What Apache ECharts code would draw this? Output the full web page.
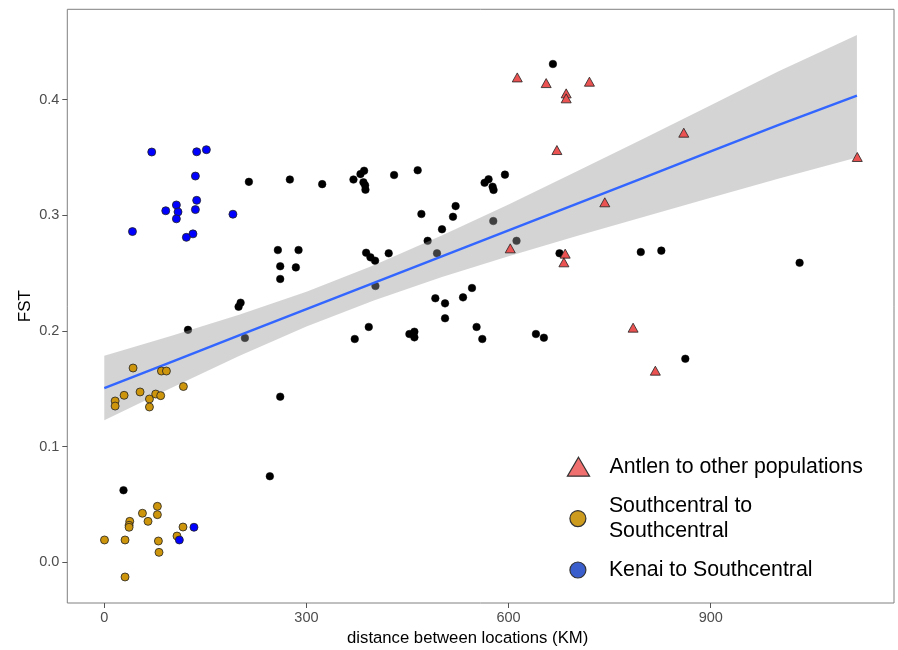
<!DOCTYPE html>
<html><head><meta charset="utf-8">
<script src="https://cdn.jsdelivr.net/npm/echarts@6/dist/echarts.min.js"></script>
<style>html,body{margin:0;padding:0;background:#fff}#c{width:898px;height:650px}</style>
</head><body><div id="c"></div>
<script>
// ---- data ----
const xTicks = [0, 300, 600, 900];
const yTicks = [0, 0.1, 0.2, 0.3, 0.4];

const nameAntlen = 'Antlen to other populations';
const nameSouth = 'Southcentral to Southcentral';
const nameKenai = 'Kenai to Southcentral';

const otherX = [214.6,275.4,323.4,257.6,288.3,261.1,284.3,261.1,202.3,199.3,124.2,208.7,28.5,261.1,245.7,369.8,380.2,385.6,384.6,387.1,387.6,430.1,465.1,564.4,570.3,576.3,577.7,594.6,521.4,517.5,470.6,501.2,577.3,479.9,611.8,493.8,388.6,395.0,401.9,422.1,402.4,545.7,532.4,491.3,505.7,505.7,392.5,371.7,452.8,460.2,460.2,552.5,561.0,640.6,652.4,665.8,675.6,796.2,826.7,1031.9,862.3];
const otherY = [0.329,0.331,0.327,0.270,0.270,0.256,0.255,0.245,0.2245,0.221,0.201,0.194,0.0623,0.1432,0.0744,0.331,0.3357,0.3386,0.3286,0.326,0.3222,0.3349,0.339,0.3282,0.3312,0.3248,0.322,0.3352,0.308,0.2988,0.3012,0.288,0.2951,0.278,0.278,0.2672,0.2677,0.2637,0.2608,0.2672,0.2389,0.2372,0.2291,0.2283,0.2239,0.211,0.2035,0.1931,0.1974,0.1994,0.1945,0.2035,0.1931,0.1974,0.1942,0.4309,0.2672,0.2683,0.2695,0.259,0.176];

const southX = [42.7,84.8,92.2,117.4,29.4,53.1,16.1,16.1,67.0,76.3,83.7,67.0,0.3,30.8,30.8,78.8,78.8,56.6,64.9,37.8,36.8,36.8,80.3,81.2,116.8,107.9];
const southY = [0.168,0.1654,0.1654,0.152,0.1444,0.1473,0.1395,0.1351,0.1412,0.1455,0.1441,0.1343,0.0193,0.0193,-0.0127,0.0484,0.0412,0.0424,0.0354,0.0354,0.0320,0.0303,0.0184,0.0086,0.0305,0.0227];

const kenaiX = [70.4,137.1,151.5,135.2,137.1,107.0,91.2,109.4,135.2,107.0,190.9,41.8,131.6,121.8,133.1,111.4];
const kenaiY = [0.3548,0.355,0.3568,0.334,0.313,0.309,0.304,0.303,0.305,0.297,0.301,0.286,0.284,0.281,0.0303,0.0193];

const antlenX = [612.9,655.8,720.0,685.5,685.5,671.7,860.0,1117.5,742.8,602.5,684.0,682.1,784.8,817.8];
const antlenY = [0.4193,0.4144,0.4156,0.4055,0.4012,0.3565,0.3715,0.3505,0.3113,0.2715,0.2669,0.2594,0.2029,0.1657];

// fitted line and confidence band
const bandX   = [0, 100, 200, 300, 400, 500, 600, 700, 800, 900, 1000, 1117];
const fitY    = [0.1507,0.1734,0.1962,0.2189,0.2416,0.2644,0.2871,0.3098,0.3325,0.3553,0.3780,0.4035];
const bandLow = [0.1228,0.1510,0.1783,0.2038,0.2264,0.2465,0.2647,0.2819,0.2987,0.3153,0.3316,0.3500];
const bandHigh= [0.1786,0.1959,0.2141,0.2340,0.2568,0.2823,0.3095,0.3377,0.3663,0.3953,0.4244,0.4560];

// ---- build chart ----
const FONT = '"Liberation Sans", Arial, Helvetica, sans-serif';
const zip = (a, b) => a.map((v, i) => [v, b[i]]);

const chart = echarts.init(document.getElementById('c'), null, {renderer: 'canvas'});
chart.setOption({
  animation: false,
  backgroundColor: '#ffffff',
  grid: {
    left: 67.3, right: 4, top: 9.3, bottom: 47,
    show: true, borderColor: '#808080', borderWidth: 1, backgroundColor: '#ffffff',
    containLabel: false, outerBoundsMode: 'none'
  },
  xAxis: {
    type: 'value', min: -54.9, max: 1172,
    axisLine: {show: false, onZero: false},
    splitLine: {show: false},
    axisTick: {show: true, customValues: xTicks, length: 5, lineStyle: {color: '#555555', width: 1}},
    axisLabel: {customValues: xTicks, color: '#4d4d4d', fontSize: 14.5, fontFamily: FONT, margin: 7},
    name: 'distance between locations (KM)', nameLocation: 'middle', nameGap: 27,
    nameMoveOverlap: false,
    nameTextStyle: {color: '#000000', fontSize: 16.7, fontFamily: FONT, padding: [0, 26, 0, 0]}
  },
  yAxis: {
    type: 'value', min: -0.0352, max: 0.4782,
    axisLine: {show: false, onZero: false},
    splitLine: {show: false},
    axisTick: {show: true, customValues: yTicks, length: 5, lineStyle: {color: '#555555', width: 1}},
    axisLabel: {customValues: yTicks, color: '#4d4d4d', fontSize: 14.5, fontFamily: FONT, margin: 8,
                formatter: v => Number(v).toFixed(1)},
    name: 'FST', nameLocation: 'middle', nameGap: 33, nameRotate: 90,
    nameMoveOverlap: false,
    nameTextStyle: {color: '#000000', fontSize: 17, fontFamily: FONT}
  },
  legend: [
    {
      data: [{name: nameAntlen, icon: 'path://M10.5,0L21,18L0,18Z',
              itemStyle: {color: '#F07070', borderColor: '#333333', borderWidth: 1.2}}],
      left: 566.8, top: 454.7, padding: 0, itemWidth: 52, itemHeight: 19, symbolKeepAspect: true,
      selectedMode: false, orient: 'vertical',
      textStyle: {fontSize: 21.3, color: '#000000', fontFamily: FONT, lineHeight: 24}
    },
    {
      data: [{name: nameSouth, icon: 'circle',
              itemStyle: {color: '#CD9B1D', borderColor: '#333333', borderWidth: 1.2}}],
      left: 569.3, top: 494.3, padding: 0, itemWidth: 52, itemHeight: 16,
      selectedMode: false, orient: 'vertical',
      formatter: n => n.replace(' to ', ' to\n'),
      textStyle: {fontSize: 21.3, color: '#000000', fontFamily: FONT, lineHeight: 24.3}
    },
    {
      data: [{name: nameKenai, icon: 'circle',
              itemStyle: {color: '#3A5FCD', borderColor: '#333333', borderWidth: 1.2}}],
      left: 569.3, top: 558, padding: 0, itemWidth: 52, itemHeight: 16,
      selectedMode: false, orient: 'vertical',
      textStyle: {fontSize: 21.3, color: '#000000', fontFamily: FONT, lineHeight: 24}
    }
  ],
  series: [
    {
      name: 'other', type: 'scatter', z: 1,
      data: zip(otherX, otherY), symbol: 'circle', symbolSize: 7.6,
      itemStyle: {color: '#000000', borderColor: '#000000', borderWidth: 0.5, opacity: 1}
    },
    {
      name: 'band', type: 'custom', z: 2, silent: true, clip: false,
      data: bandX.map((x, i) => [x, bandLow[i], bandHigh[i]]),
      encode: {x: 0, y: [1, 2]},
      renderItem: function (params, api) {
        if (params.dataIndex !== 0) return null;
        const pts = [];
        for (let i = 0; i < bandX.length; i++) pts.push(api.coord([bandX[i], bandHigh[i]]));
        for (let i = bandX.length - 1; i >= 0; i--) pts.push(api.coord([bandX[i], bandLow[i]]));
        return {type: 'polygon', shape: {points: pts}, style: {fill: 'rgba(153,153,153,0.42)'}};
      }
    },
    {
      name: 'fit', type: 'line', z: 3, symbol: 'none', silent: true,
      data: zip(bandX, fitY), lineStyle: {color: '#3366FF', width: 2.4}
    },
    {
      name: nameSouth, type: 'scatter', z: 4,
      data: zip(southX, southY), symbol: 'circle', symbolSize: 8,
      itemStyle: {color: '#CD950C', borderColor: '#222222', borderWidth: 0.8, opacity: 1}
    },
    {
      name: nameKenai, type: 'scatter', z: 4,
      data: zip(kenaiX, kenaiY), symbol: 'circle', symbolSize: 8,
      itemStyle: {color: '#0000FF', borderColor: '#222222', borderWidth: 0.8, opacity: 1}
    },
    {
      name: nameAntlen, type: 'scatter', z: 4,
      data: zip(antlenX, antlenY), symbol: 'triangle', symbolSize: [10, 9],
      itemStyle: {color: '#EB5252', borderColor: '#222222', borderWidth: 0.8, opacity: 1}
    }
  ]
});
</script>
</body></html>
